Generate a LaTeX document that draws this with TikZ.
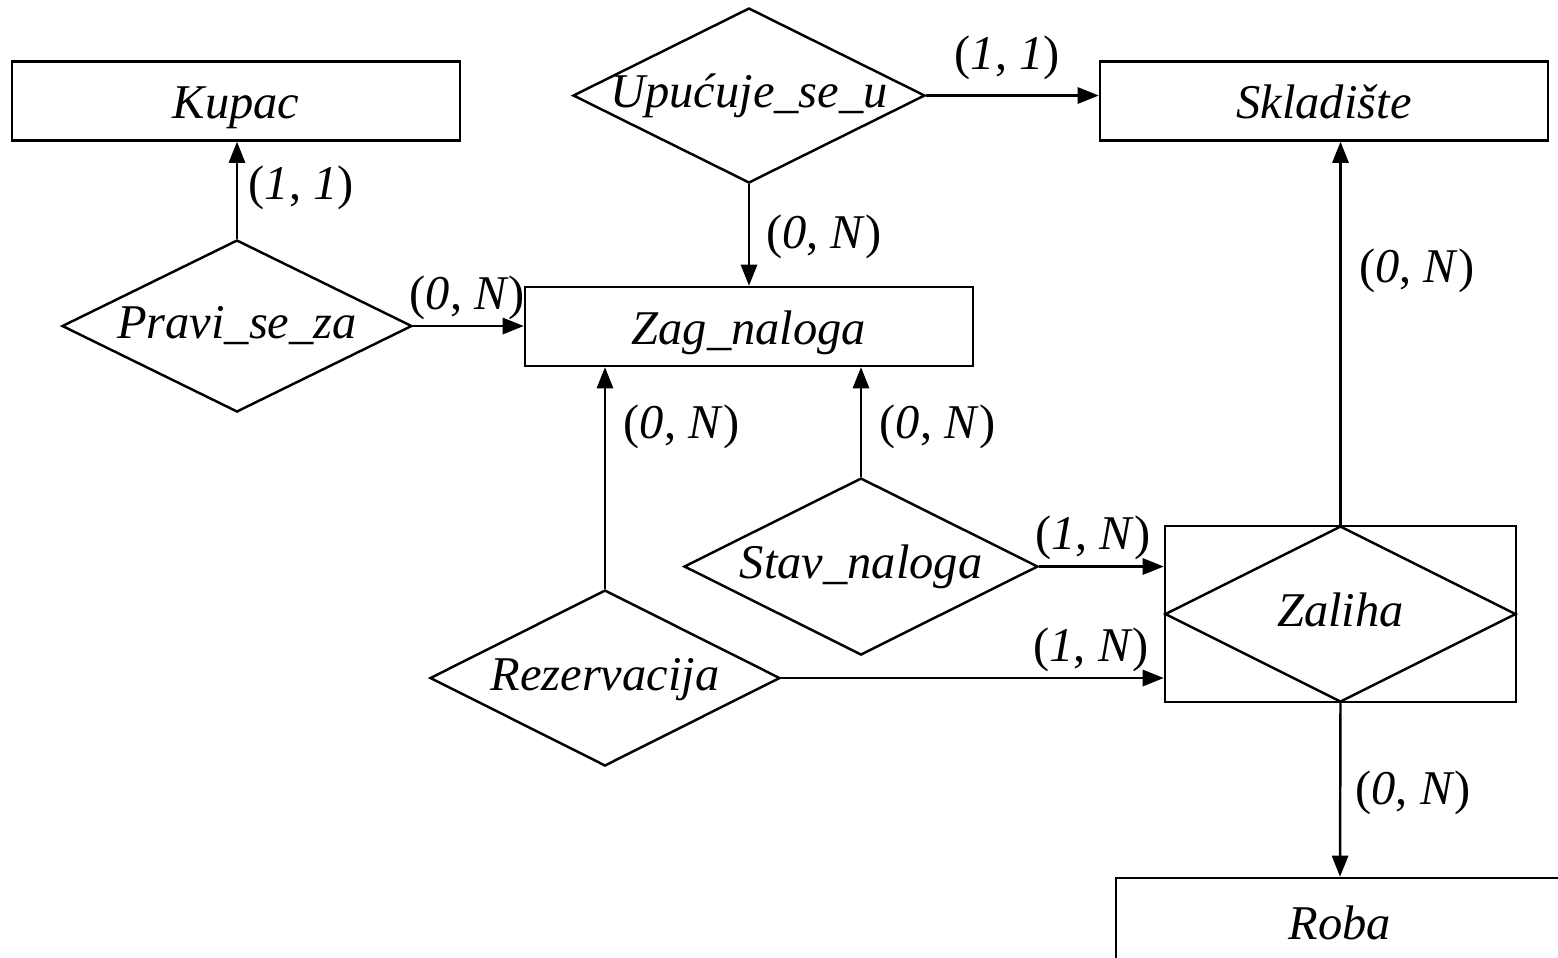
\documentclass[tikz,border=0pt]{standalone}
\usepackage{fontspec}
\setmainfont{Liberation Serif}
\usetikzlibrary{shapes.geometric,arrows.meta}
\newcommand{\card}[2]{(\textit{#1}, \textit{#2})}
\newcommand{\rel}[1]{\makebox[0pt]{#1}}
\begin{document}
\begin{tikzpicture}[line width=0.7pt,
		font=\fontsize{13.8}{16}\selectfont\itshape,
		entity/.style={draw, rectangle, minimum width=4.48cm, minimum height=0.79cm, inner sep=0pt, text height=11.5pt, text depth=1.3pt},
		relation/.style={draw, diamond, shape aspect=2, minimum width=3.52cm, minimum height=1.75cm, inner sep=0pt, text height=9.5pt, text depth=2.4pt},
		link/.style={-{Triangle[length=6pt,width=4.6pt]}},
		lbl/.style={inner sep=0pt, font=\fontsize{13.8}{16}\selectfont\upshape}]
	\useasboundingbox (0,0) rectangle (15.58,-9.57);
	\clip (0,0) rectangle (15.58,-9.57);
	% entities
	\node [entity] (kupac) at (2.36,-1.01) {Kupac};
	\node [entity] (skladiste) at (13.24,-1.01) {Skladište};
	\node [entity] (zag) at (7.49,-3.265) {Zag\_naloga};
	\node [entity, minimum height=0.88cm] (roba) at (13.40,-9.22) {Roba};
	\node [entity, minimum width=3.51cm, minimum height=1.76cm] (zalihabox) at (13.405,-6.14) {};
	% relations
	\node [relation] (upucuje) at (7.49,-0.955) {\rel{Upućuje\_se\_u}};
	\node [relation, minimum width=3.50cm, minimum height=1.72cm] (pravi) at (2.37,-3.26) {\rel{Pravi\_se\_za}};
	\node [relation, minimum width=3.54cm, minimum height=1.77cm] (stav) at (8.61,-5.665) {\rel{Stav\_naloga}};
	\node [relation, minimum width=3.50cm, minimum height=1.76cm] (rez) at (6.05,-6.78) {\rel{Rezervacija}};
	\node [relation, minimum width=3.51cm, minimum height=1.76cm] (zaliha) at (zalihabox) {\rel{Zaliha}};
	% connectors
	\draw [link] (pravi.north) -- node [lbl, right=3pt, pos=0.53] {\card{1}{1}} (pravi.north |- kupac.south);
	\draw [link] (pravi.east) -- node [lbl, above=1.5pt, pos=0.49] {\card{0}{N}} (pravi.east -| zag.west);
	\draw [link] (upucuje.east) -- node [lbl, above=4pt, pos=0.47] {\card{1}{1}} (upucuje.east -| skladiste.west);
	\draw [link] (upucuje.south) -- node [lbl, right=4.5pt, pos=0.52] {\card{0}{N}} (zag.north);
	\draw [link] (rez.north) -- node [lbl, right=5pt, pos=0.73] {\card{0}{N}} (rez.north |- zag.south);
	\draw [link] (stav.north) -- node [lbl, right=5pt, pos=0.455] {\card{0}{N}} (stav.north |- zag.south);
	\draw [link] (stav.east) -- node [lbl, above=1.5pt, pos=0.43] {\card{1}{N}} (stav.east -| zalihabox.west);
	\draw [link] (rez.east) -- node [lbl, above=1.5pt, pos=0.81] {\card{1}{N}} (rez.east -| zalihabox.west);
	\draw [link] (zaliha.north) -- node [lbl, right=5pt, pos=0.663] {\card{0}{N}} (zaliha.north |- skladiste.south);
	\draw [link] (zaliha.south) -- node [lbl, right=4pt, pos=0.517] {\card{0}{N}} (roba.north);
\end{tikzpicture}
\end{document}
